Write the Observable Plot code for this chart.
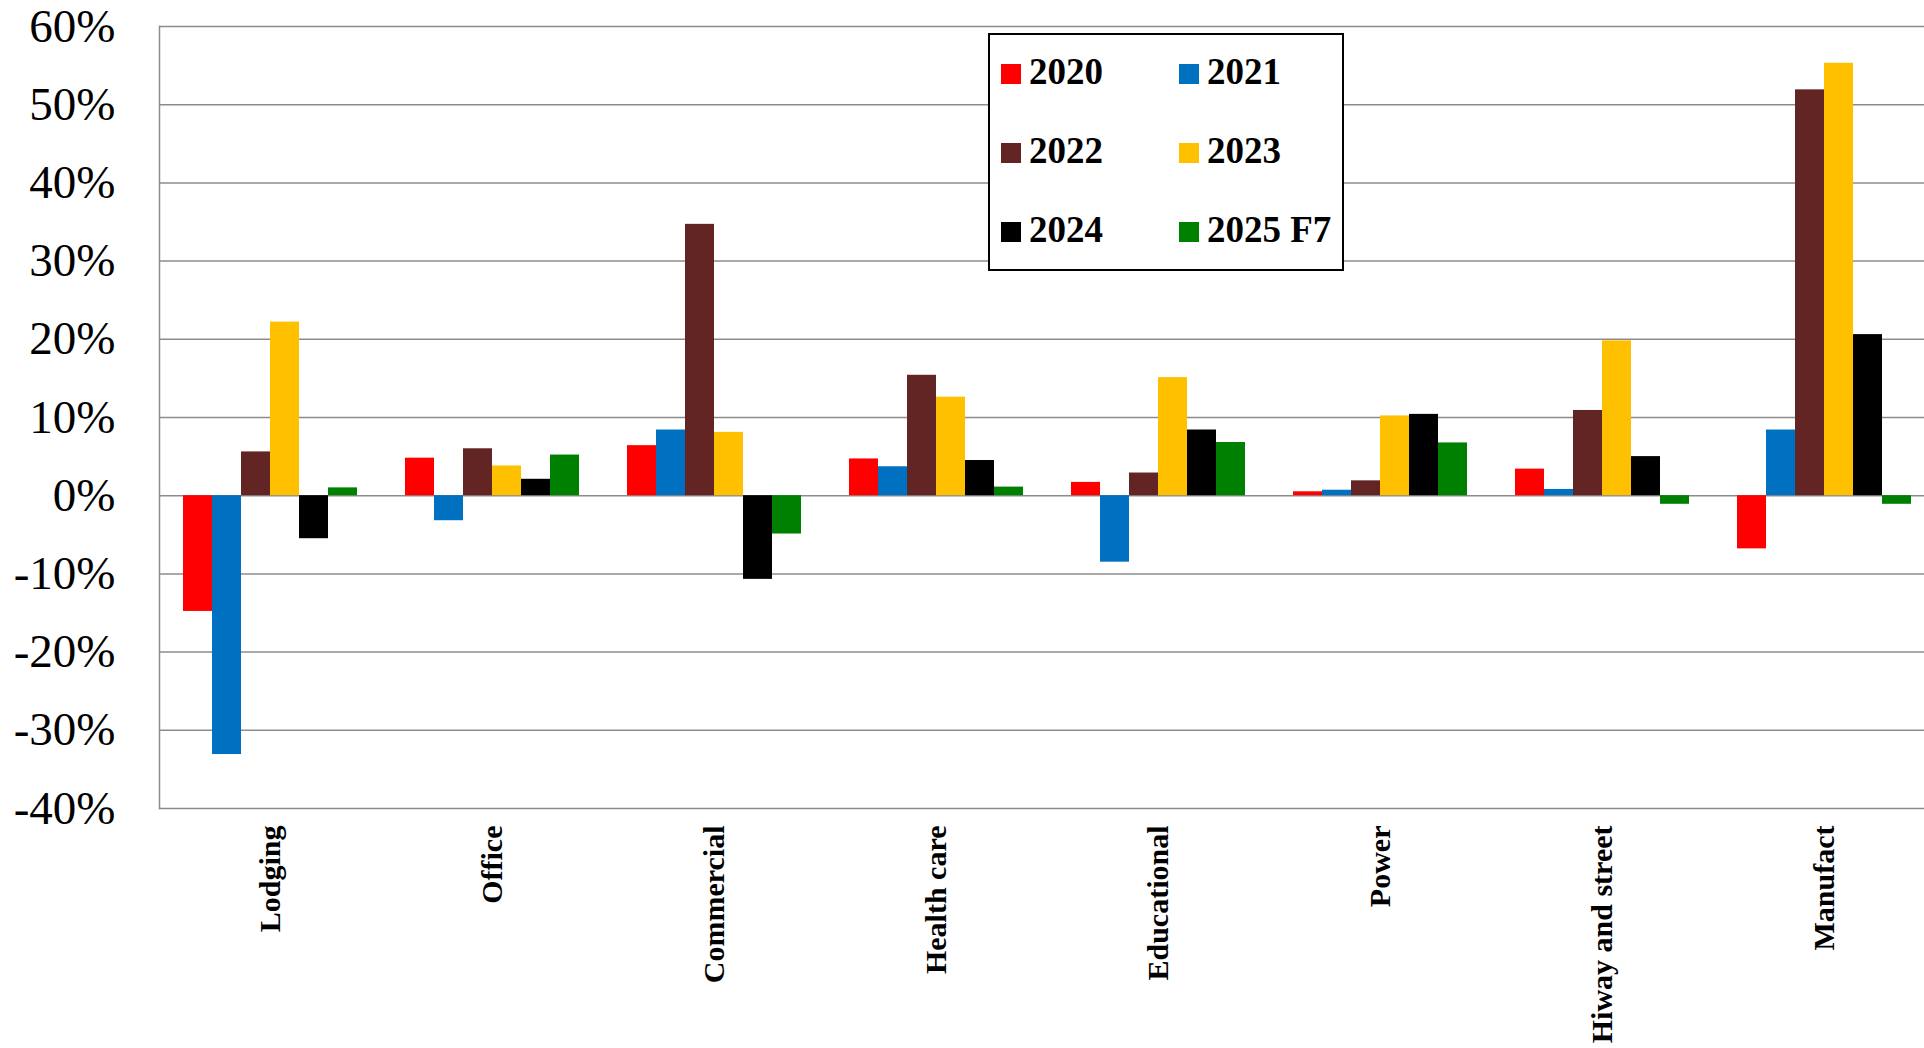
<!DOCTYPE html>
<html>
<head>
<meta charset="utf-8">
<script src="https://cdn.jsdelivr.net/npm/d3@7"></script>
<script src="https://cdn.jsdelivr.net/npm/@observablehq/plot@0.6"></script>
<style>
  html, body { margin: 0; padding: 0; background: #fff; overflow: hidden; }
  #wrap { position: relative; width: 1924px; height: 1048px; overflow: hidden; }
  #legend {
    position: absolute; left: 988px; top: 33px;
    border: 2px solid #000; background: #fff;
    font-family: "Liberation Serif", serif; font-weight: bold; font-size: 37px; color: #000;
    display: grid; grid-template-columns: 178px 174px; grid-auto-rows: 79px;
    padding-left: 11px; box-sizing: border-box; width: 356px; height: 238px;
  }
  #legend .item { display: flex; align-items: center; white-space: nowrap; position: relative; top: -3px; }
  #legend .sw { width: 20px; height: 20px; margin-right: 8px; flex: none; position: relative; top: 2px; }
  svg text { font-family: "Liberation Serif", serif; }
</style>
</head>
<body>
<div id="wrap"><div id="chart"></div><div id="legend"></div></div>
<script>
const categories = ["Lodging", "Office", "Commercial", "Health care", "Educational", "Power", "Hiway and street", "Manufact"];
const years = ["2020", "2021", "2022", "2023", "2024", "2025 F7"];
const colors = ["#ff0000", "#0070c0", "#632523", "#ffc000", "#000000", "#008000"];
const yTicks = [-40, -30, -20, -10, 0, 10, 20, 30, 40, 50, 60];

const v2020 = [-14.8, 4.8, 6.4, 4.7, 1.7, 0.5, 3.4, -6.8];
const v2021 = [-33.1, -3.2, 8.4, 3.7, -8.5, 0.7, 0.8, 8.4];
const v2022 = [5.6, 6.0, 34.7, 15.4, 2.9, 1.9, 10.9, 51.9];
const v2023 = [22.2, 3.8, 8.1, 12.6, 15.1, 10.2, 19.8, 55.3];
const v2024 = [-5.5, 2.1, -10.7, 4.5, 8.4, 10.4, 5.0, 20.6];
const v2025 = [1.0, 5.2, -4.9, 1.1, 6.8, 6.75, -1.1, -1.1];

const series = [v2020, v2021, v2022, v2023, v2024, v2025];
const data = [];
categories.forEach((c, i) => years.forEach((y, j) => data.push({category: c, year: y, value: series[j][i]})));

const chart = Plot.plot({
  width: 1935,
  height: 1048,
  marginLeft: 159,
  marginRight: 0,
  marginTop: 26,
  marginBottom: 240,
  style: {fontFamily: "'Liberation Serif', serif", maxWidth: "none", background: "white", color: "#000"},
  fx: {domain: categories, paddingInner: 0, paddingOuter: 0, label: null},
  x: {domain: years, paddingInner: 0, paddingOuter: 0.75, axis: null},
  y: {domain: [-40, 60], label: null},
  color: {domain: years, range: colors},
  marks: [
    Plot.gridY(yTicks, {stroke: "#8c8c8c", strokeOpacity: 1, strokeWidth: 1.5}),
    Plot.barY(data, {fx: "category", x: "year", y: "value", fill: "year"}),
    Plot.frame({anchor: "left", facet: "super", stroke: "#8c8c8c", strokeWidth: 1.5}),
    Plot.axisY(yTicks, {tickSize: 0, tickPadding: 44, fontSize: 47, fontVariant: "normal", tickFormat: d => `${d}%`}),
    Plot.axisFx({anchor: "bottom", tickRotate: -90, tickSize: 0, tickPadding: 17, fontSize: 30, fontWeight: "bold", label: null})
  ]
});
document.getElementById("chart").appendChild(chart);

const legend = document.getElementById("legend");
years.forEach((y, j) => {
  const item = document.createElement("div");
  item.className = "item";
  const sw = document.createElement("span");
  sw.className = "sw";
  sw.style.background = colors[j];
  const t = document.createElement("span");
  t.textContent = y;
  item.appendChild(sw);
  item.appendChild(t);
  legend.appendChild(item);
});
</script>
</body>
</html>
